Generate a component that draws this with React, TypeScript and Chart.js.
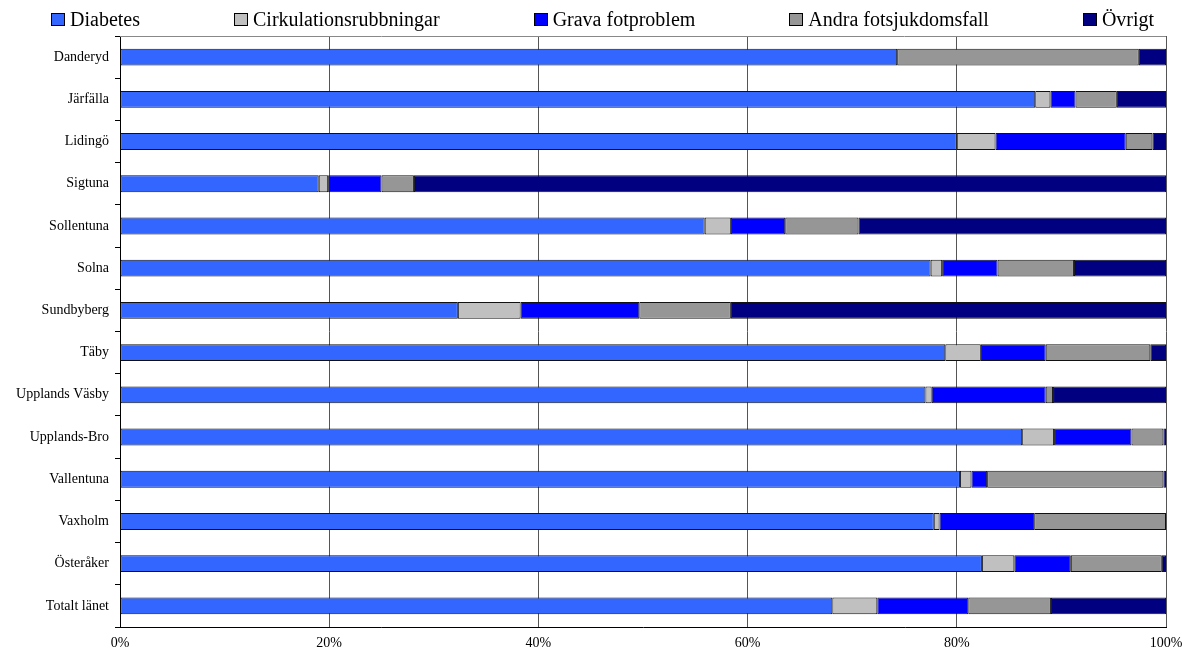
import React, { useEffect, useRef } from "react";
import { Chart, registerables } from "chart.js";

Chart.register(...registerables);

const categories = [
  "Danderyd",
  "Järfälla",
  "Lidingö",
  "Sigtuna",
  "Sollentuna",
  "Solna",
  "Sundbyberg",
  "Täby",
  "Upplands Väsby",
  "Upplands-Bro",
  "Vallentuna",
  "Vaxholm",
  "Österåker",
  "Totalt länet",
];

const seriesNames = [
  "Diabetes",
  "Cirkulationsrubbningar",
  "Grava fotproblem",
  "Andra fotsjukdomsfall",
  "Övrigt",
];

const diabetes = [74.3, 87.5, 80.0, 19.0, 55.9, 77.5, 32.3, 78.9, 77.0, 86.25, 80.3, 77.8, 82.4, 68.1];
const cirkulation = [0, 1.45, 3.7, 0.9, 2.5, 1.1, 6.0, 3.4, 0.6, 3.05, 1.1, 0.55, 3.1, 4.3];
const grava = [0, 2.4, 12.45, 5.1, 5.2, 5.3, 11.35, 6.2, 10.9, 7.4, 1.5, 9.05, 5.4, 8.7];
const andra = [23.1, 3.95, 2.55, 3.1, 7.0, 7.3, 8.75, 10.0, 0.7, 3.05, 16.85, 12.6, 8.7, 7.9];
const ovrigt = [2.6, 4.7, 1.3, 71.9, 29.4, 8.8, 41.6, 1.5, 10.8, 0.25, 0.25, 0, 0.4, 11.0];

const xTicks = [0, 20, 40, 60, 80, 100];

const colors = ["#3366FF", "#C0C0C0", "#0000FF", "#969696", "#000080"];
const seriesValues = [diabetes, cirkulation, grava, andra, ovrigt];

const FONT = "'Liberation Serif', 'Times New Roman', serif";

const topBorder = {
  id: "topBorder",
  beforeDatasetsDraw(chart: any) {
    const { ctx, chartArea } = chart;
    ctx.save();
    ctx.strokeStyle = "#888888";
    ctx.lineWidth = 1;
    ctx.beginPath();
    ctx.moveTo(chartArea.left, chartArea.top + 0.5);
    ctx.lineTo(chartArea.right, chartArea.top + 0.5);
    ctx.stroke();
    ctx.restore();
  },
};

export default function App() {
  const canvasRef = useRef<HTMLCanvasElement | null>(null);

  useEffect(() => {
    if (!canvasRef.current) return;
    const chart = new Chart(canvasRef.current, {
      type: "bar",
      data: {
        labels: categories,
        datasets: seriesNames.map((name, i) => ({
          label: name,
          data: seriesValues[i],
          backgroundColor: colors[i],
          borderColor: "#111111",
          borderWidth: 1,
          borderSkipped: false,
          categoryPercentage: 1,
          barPercentage: 0.4,
        })),
      },
      plugins: [topBorder],
      options: {
        indexAxis: "y",
        animation: false,
        responsive: true,
        maintainAspectRatio: false,
        layout: { padding: { top: 36, right: 16, left: 0, bottom: 0 } },
        plugins: {
          legend: { display: false },
          tooltip: { enabled: false },
        },
        scales: {
          x: {
            stacked: true,
            min: 0,
            max: 100,
            afterBuildTicks(scale: any) {
              scale.ticks = xTicks.map((v) => ({ value: v }));
            },
            afterFit(scale: any) {
              scale.height = 24;
              scale.paddingLeft = 0;
              scale.paddingRight = 0;
            },
            grid: {
              color: "#555555",
              lineWidth: 1,
              drawTicks: false,
            },
            border: { color: "#000000", width: 1 },
            ticks: {
              padding: 8,
              color: "#000000",
              font: { family: FONT, size: 14 },
              callback: (v: any) => v + "%",
              maxRotation: 0,
            },
          },
          y: {
            stacked: true,
            afterFit(scale: any) {
              scale.width = 120;
              scale.paddingTop = 0;
              scale.paddingBottom = 0;
            },
            grid: {
              offset: true,
              drawOnChartArea: false,
              drawTicks: true,
              tickLength: 5,
              color: "#000000",
            },
            border: { color: "#000000", width: 1 },
            ticks: {
              padding: 6,
              color: "#000000",
              font: { family: FONT, size: 14 },
              autoSkip: false,
            },
          },
        },
      },
    });
    return () => chart.destroy();
  }, []);

  return (
    <div
      style={{
        position: "absolute",
        left: 0,
        top: 0,
        width: 1182,
        height: 651,
        background: "#ffffff",
      }}
    >
      <canvas ref={canvasRef} />
      <div
        style={{
          position: "absolute",
          left: 0,
          top: 0,
          width: 1182,
          height: 38,
          paddingLeft: 51,
          boxSizing: "border-box",
          display: "flex",
          alignItems: "center",
          gap: 94,
          fontFamily: FONT,
          fontSize: 20,
          lineHeight: "20px",
          color: "#000",
          pointerEvents: "none",
        }}
      >
        {seriesNames.map((name, i) => (
          <div key={name} style={{ display: "flex", alignItems: "center", whiteSpace: "nowrap" }}>
            <span
              style={{
                display: "inline-block",
                width: 12,
                height: 11,
                border: "1px solid #000",
                background: colors[i],
                marginRight: 5,
              }}
            />
            <span>{name}</span>
          </div>
        ))}
      </div>
    </div>
  );
}
